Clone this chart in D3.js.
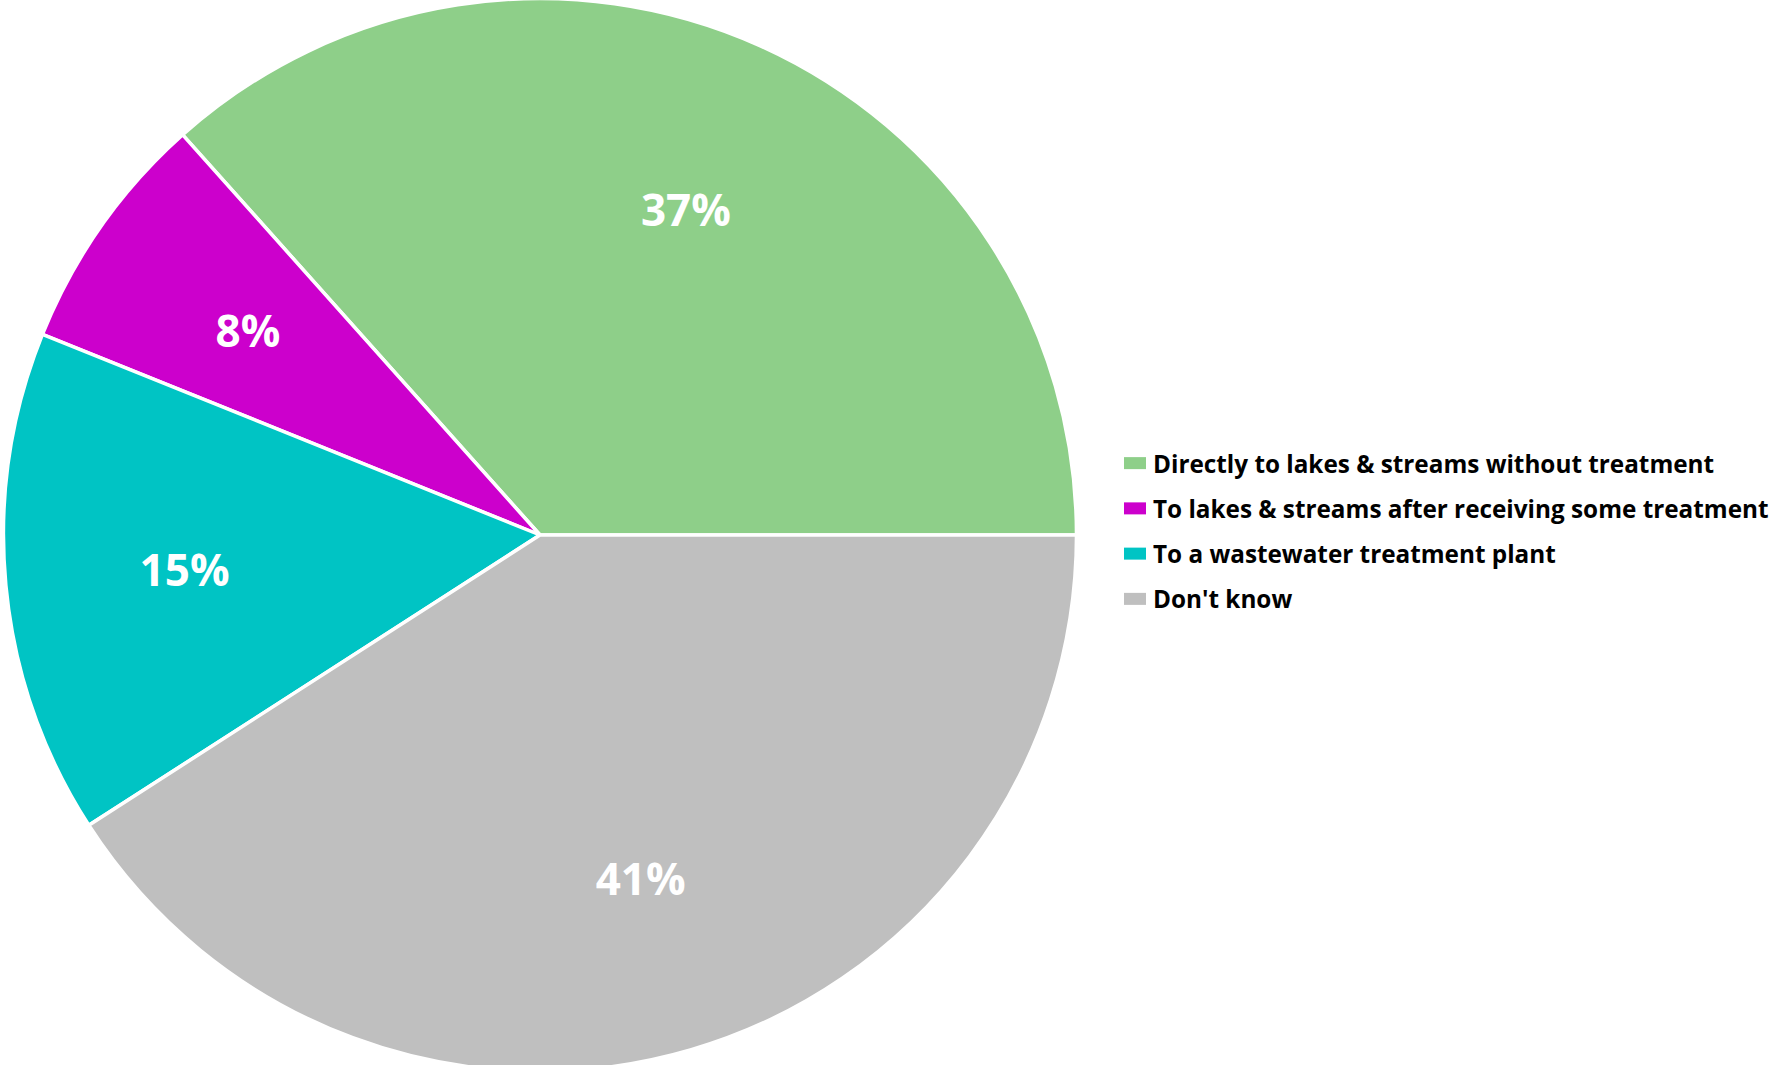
<!DOCTYPE html>
<html>
<head>
<meta charset="utf-8">
<script src="https://cdn.jsdelivr.net/npm/d3@7"></script>
<style>
  html, body { margin: 0; padding: 0; background: #fff; }
  svg { display: block; }
</style>
</head>
<body>
<svg id="chart" width="1771" height="1065"></svg>
<script>
const categories = [
  "Directly to lakes & streams without treatment",
  "To lakes & streams after receiving some treatment",
  "To a wastewater treatment plant",
  "Don't know"
];
const values = [36.6, 7.3, 15.2, 40.9];
const valueLabels = ["37%", "8%", "15%", "41%"];
const colors = ["#8ECF89", "#CC00CC", "#00C4C4", "#BFBFBF"];

const svg = d3.select("#chart");
const cx = 540, cy = 535, r = 536.5;

const data = categories.map((c, i) => ({ name: c, value: values[i], label: valueLabels[i], color: colors[i] }));

const pie = d3.pie().sort(null).value(d => d.value)
  .startAngle(Math.PI / 2).endAngle(-3 * Math.PI / 2);
const arcs = pie(data);

const arc = d3.arc().innerRadius(0).outerRadius(r);
const labelArc = d3.arc().innerRadius(357).outerRadius(357);

const g = svg.append("g").attr("transform", `translate(${cx},${cy})`);

g.selectAll("path.slice").data(arcs).join("path")
  .attr("class", "slice")
  .attr("d", arc)
  .attr("fill", d => d.data.color)
  .attr("stroke", "#fff")
  .attr("stroke-width", 3.5)
  .attr("stroke-linejoin", "round");

g.selectAll("text.val").data(arcs).join("text")
  .attr("class", "val")
  .attr("transform", d => `translate(${labelArc.centroid(d)})`)
  .attr("text-anchor", "middle")
  .attr("dominant-baseline", "central")
  .attr("font-family", "'Open Sans', sans-serif")
  .attr("font-weight", 700)
  .attr("font-size", 44)
  .attr("fill", "#fff")
  .text(d => d.data.label);

// Legend
const legendY = d3.scaleBand().domain(categories).range([440.5, 621.5]);
const legend = svg.append("g");
const items = legend.selectAll("g").data(data).join("g")
  .attr("transform", d => `translate(1124,${legendY(d.name) + legendY.bandwidth() / 2})`);
items.append("rect")
  .attr("x", 0).attr("y", -6).attr("width", 22).attr("height", 12)
  .attr("fill", d => d.color);
items.append("text")
  .attr("x", 29).attr("y", 0)
  .attr("dominant-baseline", "central")
  .attr("font-family", "'Open Sans', sans-serif")
  .attr("font-weight", 700)
  .attr("font-size", 24.3)
  .attr("fill", "#000")
  .text(d => d.name);
</script>
</body>
</html>
